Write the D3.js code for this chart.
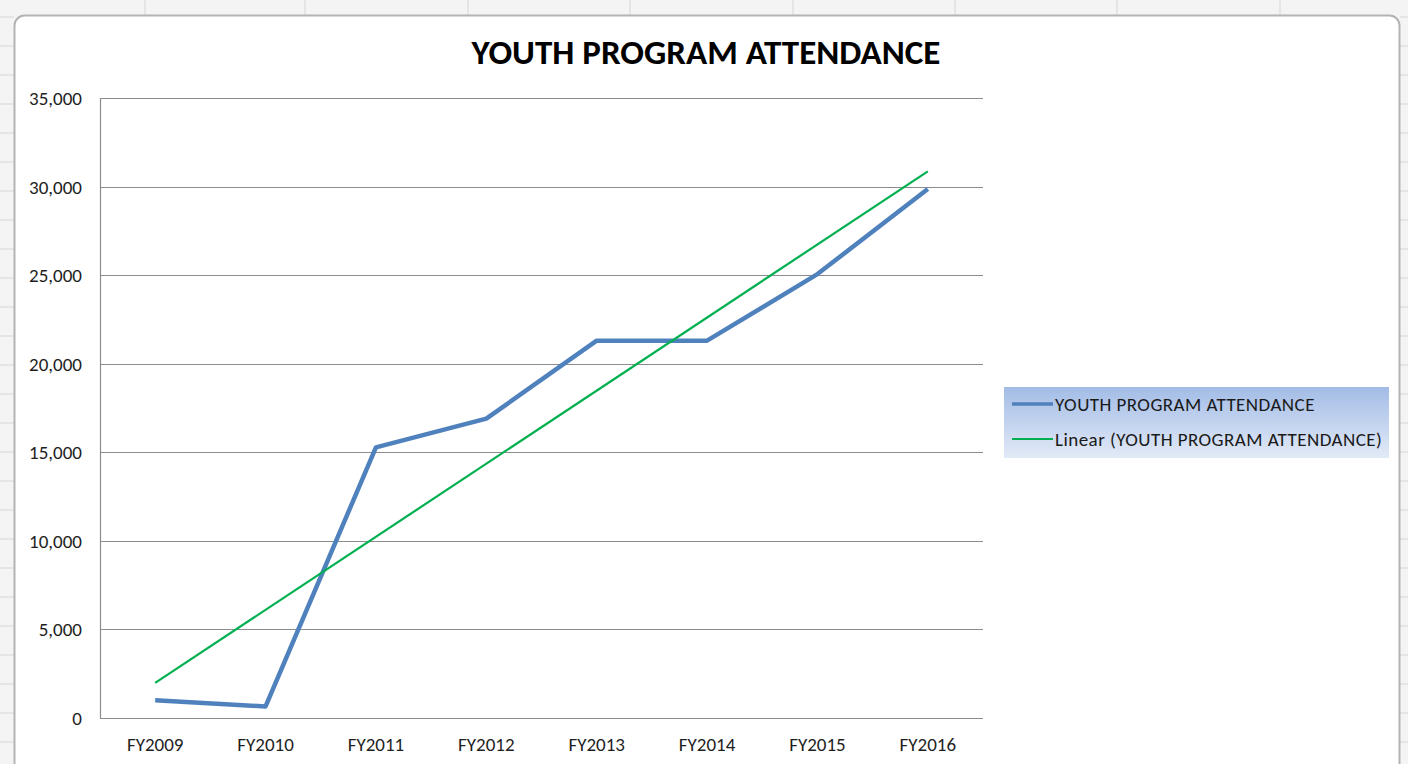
<!DOCTYPE html>
<html>
<head>
<meta charset="utf-8">
<script src="https://cdn.jsdelivr.net/npm/d3@7"></script>
<style>
  html, body { margin: 0; padding: 0; background: #f3f3f3; overflow: hidden; }
  svg { display: block; font-family: Carlito, Calibri, Lato, "Open Sans", sans-serif; }
</style>
</head>
<body>
<svg width="1408" height="764"></svg>
<script>
// chart data
const categories = ["FY2009", "FY2010", "FY2011", "FY2012", "FY2013", "FY2014", "FY2015", "FY2016"];
const attendance = [1000, 650, 15280, 16900, 21300, 21300, 25060, 29860];
const yTicks = [0, 5000, 10000, 15000, 20000, 25000, 30000, 35000];
const chartTitle = "YOUTH PROGRAM ATTENDANCE";
const legendLabels = ["YOUTH PROGRAM ATTENDANCE", "Linear (YOUTH PROGRAM ATTENDANCE)"];

const svg = d3.select("svg"),
    width = +svg.attr("width"),
    height = +svg.attr("height");

const blue = "#4f81bd", green = "#00b050";

// spreadsheet behind the chart
const sheet = svg.append("g");
sheet.append("rect").attr("width", width).attr("height", height).attr("fill", "#f4f4f4");
[145, 305, 468, 630, 793, 955, 1117, 1280].forEach(x => {
    sheet.append("line").attr("x1", x).attr("x2", x).attr("y1", 0).attr("y2", 16)
        .attr("stroke", "#d6d6d6");
});
d3.range(17, height, 29).forEach(y => {
    sheet.append("line").attr("x1", 0).attr("x2", 14).attr("y1", y).attr("y2", y).attr("stroke", "#d6d6d6");
    sheet.append("line").attr("x1", 1400).attr("x2", width).attr("y1", y).attr("y2", y).attr("stroke", "#d6d6d6");
});

// chart frame
svg.append("rect")
    .attr("x", 14.5).attr("y", 15.5)
    .attr("width", 1385).attr("height", 790)
    .attr("rx", 10)
    .attr("fill", "#ffffff")
    .attr("stroke", "#b4b4b4")
    .attr("stroke-width", 2);

const margin = {left: 100, right: 983, top: 98, bottom: 718};

const x = d3.scaleBand()
    .domain(categories)
    .range([margin.left, margin.right]);

const y = d3.scaleLinear()
    .domain([0, 35000])
    .range([margin.bottom, margin.top]);

// gridlines
svg.append("g")
    .selectAll("line")
    .data(yTicks)
    .enter().append("line")
    .attr("x1", margin.left)
    .attr("x2", margin.right)
    .attr("y1", d => Math.round(y(d)) + 0.5)
    .attr("y2", d => Math.round(y(d)) + 0.5)
    .attr("stroke", "#8c8c8c")
    .attr("stroke-width", 1.2);

// vertical axis line
svg.append("line")
    .attr("x1", margin.left + 0.5).attr("x2", margin.left + 0.5)
    .attr("y1", margin.top).attr("y2", margin.bottom)
    .attr("stroke", "#8c8c8c")
    .attr("stroke-width", 1.2);

// y labels
const fmt = d3.format(",");
svg.append("g")
    .selectAll("text")
    .data(yTicks)
    .enter().append("text")
    .attr("x", 82)
    .attr("y", d => y(d) + 7)
    .attr("text-anchor", "end")
    .attr("font-size", 19)
    .attr("fill", "#1e1e1e")
    .text(d => fmt(d));

// x labels
svg.append("g")
    .selectAll("text")
    .data(categories)
    .enter().append("text")
    .attr("x", d => x(d) + x.bandwidth() / 2)
    .attr("y", 751)
    .attr("text-anchor", "middle")
    .attr("font-size", 19)
    .attr("fill", "#1e1e1e")
    .text(d => d);

// linear trend (least squares over the series, as the spreadsheet does)
const xs = attendance.map((d, i) => i + 1);
const mx = d3.mean(xs), my = d3.mean(attendance);
const slope = d3.sum(xs, (v, i) => (v - mx) * (attendance[i] - my)) / d3.sum(xs, v => (v - mx) * (v - mx));
const intercept = my - slope * mx;
const trend = [categories[0], categories[categories.length - 1]].map(c => {
    const xi = categories.indexOf(c) + 1;
    return {c: c, v: intercept + slope * xi};
});

const line = d3.line()
    .x(d => x(d.c) + x.bandwidth() / 2)
    .y(d => y(d.v));

svg.append("path")
    .datum(categories.map((c, i) => ({c: c, v: attendance[i]})))
    .attr("d", line)
    .attr("fill", "none")
    .attr("stroke", blue)
    .attr("stroke-width", 4.5)
    .attr("stroke-linejoin", "round");

svg.append("path")
    .datum(trend)
    .attr("d", line)
    .attr("fill", "none")
    .attr("stroke", green)
    .attr("stroke-width", 2.2);

// title
svg.append("text")
    .attr("x", 706)
    .attr("y", 64)
    .attr("text-anchor", "middle")
    .attr("font-size", 35)
    .attr("font-weight", "bold")
    .attr("fill", "#000")
    .text(chartTitle);

// legend
const defs = svg.append("defs");
const grad = defs.append("linearGradient")
    .attr("id", "legendGrad")
    .attr("x1", 0).attr("y1", 0).attr("x2", 0).attr("y2", 1);
grad.append("stop").attr("offset", "0%").attr("stop-color", "#a3bce6");
grad.append("stop").attr("offset", "100%").attr("stop-color", "#e2eaf7");

const legend = svg.append("g").attr("transform", "translate(1004,387)");
legend.append("rect")
    .attr("width", 385).attr("height", 71)
    .attr("fill", "url(#legendGrad)");

legend.selectAll("line")
    .data(legendLabels)
    .enter().append("line")
    .attr("x1", 8).attr("x2", 49)
    .attr("y1", (d, i) => 17 + i * 35)
    .attr("y2", (d, i) => 17 + i * 35)
    .attr("stroke", (d, i) => i === 0 ? blue : green)
    .attr("stroke-width", (d, i) => i === 0 ? 3.5 : 2.2);

legend.selectAll("text")
    .data(legendLabels)
    .enter().append("text")
    .attr("x", 51)
    .attr("y", (d, i) => 24 + i * 35)
    .attr("font-size", 19)
    .attr("letter-spacing", 0.45)
    .attr("fill", "#1a1a1a")
    .text(d => d);
</script>
</body>
</html>
